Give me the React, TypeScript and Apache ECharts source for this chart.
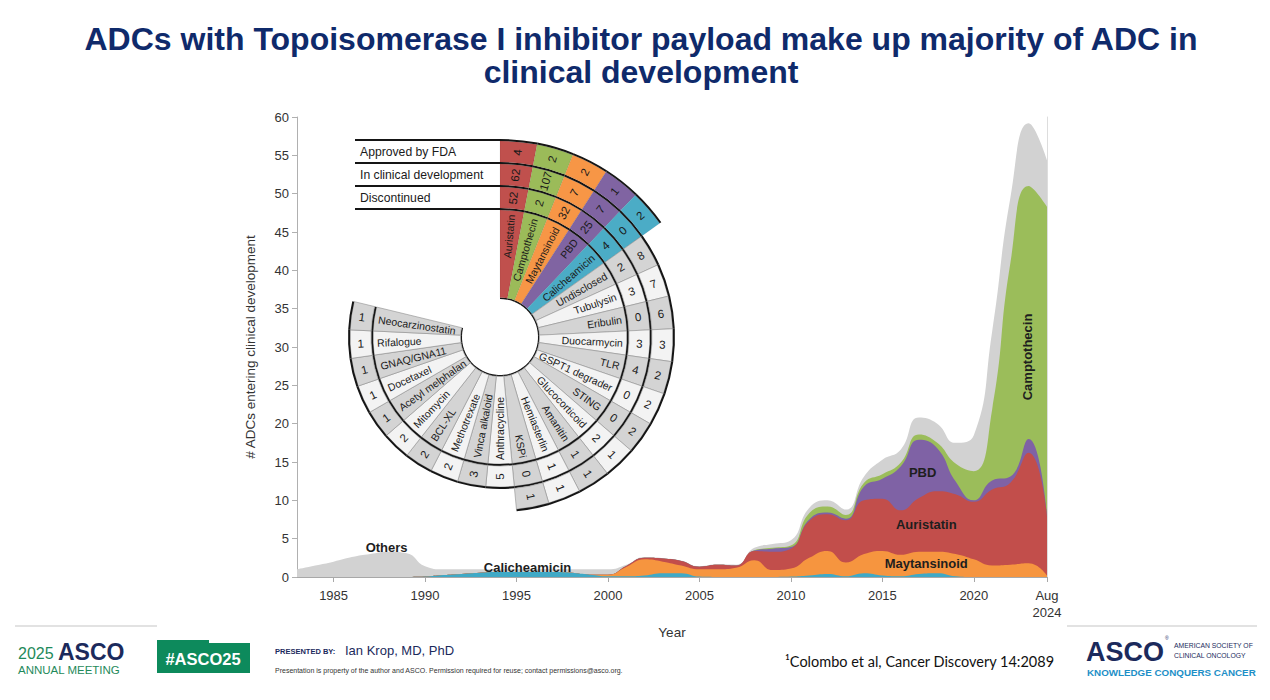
import React, { useEffect, useRef } from "react";
import * as echarts from "echarts";

const FONT = '"Liberation Sans", Arial, Helvetica, sans-serif';

// ---------- stream / stacked area data (ADCs entering clinical development per year) ----------
const years = [1983, 1984, 1985, 1986, 1987, 1988, 1989, 1990, 1991, 1992, 1993, 1994, 1995, 1996, 1997, 1998, 1999, 2000, 2001, 2002, 2003, 2004, 2005, 2006, 2007, 2008, 2009, 2010, 2011, 2012, 2013, 2014, 2015, 2016, 2017, 2018, 2019, 2020, 2021, 2022, 2023, 2024];

const calicheamicin = [0, 0, 0, 0, 0, 0, 0,
  0.05, 0.25, 0.4, 0.55, 0.65, 0.65, 0.65, 0.65, 0.55, 0.3,
  0.1, 0.1, 0.2, 0.5, 0.5, 0.05, 0, 0, 0, 0,
  0.05, 0.2, 0.4, 0.1, 0.5, 0.2, 0.1, 0.4, 0.5, 0.1,
  0, 0, 0, 0, 0];
const maytansinoid = [0, 0, 0, 0, 0, 0, 0,
  0, 0, 0, 0, 0, 0, 0, 0, 0, 0,
  0.2, 1.2, 2.1, 1.5, 1.0, 0.95, 1.0, 1.2, 2.2, 0.9,
  1.05, 2.3, 3.0, 1.8, 2.5, 3.2, 2.8, 2.9, 2.8, 2.9,
  2.3, 1.5, 1.6, 1.8, 0.2];
const auristatin = [0, 0, 0, 0, 0, 0, 0,
  0, 0, 0, 0, 0, 0, 0, 0, 0, 0,
  0, 0.15, 0.2, 0.4, 0.6, 0.35, 0.6, 0.3, 1.2, 2.4,
  2.6, 4.8, 4.8, 5.5, 7.0, 6.8, 5.8, 7.0, 7.9, 7.8,
  7.5, 9.9, 10.7, 14.4, 7.7];
const pbd = [0, 0, 0, 0, 0, 0, 0,
  0, 0, 0, 0, 0, 0, 0, 0, 0, 0,
  0, 0, 0, 0, 0, 0, 0, 0, 0.05, 0.4,
  0.2, 0.2, 0.2, 0.2, 1.8, 2.6, 5.7, 7.6, 5.6, 1.7,
  0.2, 1.2, 0.8, 1.8, 0.1];
const camptothecin = [0, 0, 0, 0, 0, 0, 0,
  0, 0, 0, 0, 0, 0, 0, 0, 0, 0,
  0, 0, 0, 0, 0, 0, 0, 0, 0.05, 0.1,
  0.2, 0.8, 0.8, 0.5, 0.5, 0.6, 0.5, 0.7, 0.7, 2.3,
  3.8, 9.2, 27.9, 33.0, 40.3];
const others = [1.0, 1.5, 2.0, 2.6, 3.0, 3.3, 3.1,
  1.35, 0.75, 0.6, 0.45, 0.35, 0.35, 0.35, 0.35, 0.45, 0.7,
  0.7, 0.15, 0.1, 0.05, 0.05, 0.05, 0.05, 0.1, 0.3, 0.5,
  0.7, 0.7, 0.8, 0.7, 0.8, 1.9, 1.7, 2.2, 2.5, 2.7,
  4.7, 10.2, 8.5, 8.2, 6.1];

// bottom -> top stacking order
const areaSeriesNames = ["Calicheamicin", "Maytansinoid", "Auristatin", "PBD", "Camptothecin", "Others"];
const areaSeriesValues = [calicheamicin, maytansinoid, auristatin, pbd, camptothecin, others];
const areaColors = ["#3fa9c6", "#f6953f", "#c24e4b", "#7f62a5", "#9bbd5a", "#d2d2d2"];

const xTickValues = [1985, 1990, 1995, 2000, 2005, 2010, 2015, 2020, 2024];

const areaLabelTexts = ["Others", "Calicheamicin", "PBD", "Auristatin", "Maytansinoid", "Camptothecin"];
const areaLabelYears = [1987.9, 1995.6, 2017.2, 2017.4, 2017.4, 2022.95];
const areaLabelValues = [3.9, 1.2, 13.6, 6.8, 1.8, 28.7];
const areaLabelRotations = [0, 0, 0, 0, 0, 90];

// ---------- radial inset data ----------
const payloadNames = ["Auristatin", "Camptothecin", "Maytansinoid", "PBD", "Calicheamicin",
  "Undisclosed", "Tubulysin", "Eribulin", "Duocarmycin", "TLR", "GSPT1 degrader", "STING",
  "Glucocorticoid", "Amanitin", "Hemiasterlin", "KSPi",
  "Anthracycline", "Vinca alkaloid", "Methotrexate", "BCL-XL", "Mitomycin", "Acetyl melphalan",
  "Docetaxel", "GNAQ/GNA11", "Rifalogue", "Neocarzinostatin"];
const approvedByFda: (number | null)[] = [4, 2, 2, 1, 2,
  null, null, null, null, null, null, null, null, null, null, null,
  null, null, null, null, null, null, null, null, null, null];
const inClinicalDevelopment: (number | null)[] = [62, 107, 7, 7, 0,
  8, 7, 6, 3, 2, 2, 2, 1, 1, 1, 1,
  null, null, null, null, null, null, null, null, null, null];
const discontinued: (number | null)[] = [52, 2, 32, 25, 4,
  2, 3, 0, 3, 4, 0, 0, 2, 1, 1, 0,
  5, 3, 2, 2, 2, 1, 1, 1, 1, 1];
const payloadColors = ["#c0504d", "#9bbb59", "#f79646", "#8064a2", "#4bacc6"];
const ringHeaders = ["Approved by FDA", "In clinical development", "Discontinued"];
const GAP_SLOTS = 7;

// layout constants for the inset
const CX = 500;
const CY = 337;
const R_IN = 38;
const HEADER_X0 = 355;

export default function App() {
  const ref = useRef<HTMLDivElement>(null);

  useEffect(() => {
    if (!ref.current) return;
    const chart = echarts.init(ref.current, null, { renderer: "svg" });

    const N = payloadNames.length;
    const angleCategories = [...payloadNames, ...Array.from({ length: GAP_SLOTS }, (_, k) => "gap" + k)];

    const hasAll = (_i: number) => true;
    const hasDisc = (i: number) => discontinued[i] != null;
    const hasClin = (i: number) => inClinicalDevelopment[i] != null;
    const hasAppr = (i: number) => approvedByFda[i] != null;
    const segs = [
      { width: 1.5, kind: "line", has: hasAll },
      { width: 87.5, kind: "fill", has: hasAll },
      { width: 2, kind: "line", has: hasAll },
      { width: 21, kind: "fill", has: hasDisc },
      { width: 2, kind: "line", has: hasDisc },
      { width: 21, kind: "fill", has: hasClin },
      { width: 2, kind: "line", has: hasClin },
      { width: 21, kind: "fill", has: hasAppr },
      { width: 2, kind: "line", has: hasAppr },
    ];
    const totalRing = segs.reduce((a, s) => a + s.width, 0);

    const fillStyle = (i: number) =>
      i < payloadColors.length
        ? { color: payloadColors[i], borderColor: "rgba(0,0,0,0.12)", borderWidth: 0.5 }
        : { color: i % 2 === 1 ? "#d4d4d4" : "#f3f3f3", borderColor: "#8e8e8e", borderWidth: 0.6 };

    const ringSeries = segs.map((s) => ({
      type: "bar",
      coordinateSystem: "polar",
      stack: "rings",
      barCategoryGap: "0%",
      silent: true,
      z: 5,
      data: angleCategories.map((_, i) =>
        i < N && s.has(i)
          ? { value: s.width, itemStyle: s.kind === "line" ? { color: "#151515", borderWidth: 0 } : fillStyle(i) }
          : "-"
      ),
    }));

    // radial positions (in radius-axis units) of the texts
    const nameR = segs[0].width + segs[1].width - 4;
    const discR = segs[0].width + segs[1].width + segs[2].width + segs[3].width / 2;
    const clinR = discR + segs[3].width / 2 + segs[4].width + segs[5].width / 2;
    const apprR = clinR + segs[5].width / 2 + segs[6].width + segs[7].width / 2;

    const textSeries = {
      type: "custom",
      coordinateSystem: "polar",
      z: 20,
      silent: true,
      data: payloadNames.map((_, i) => [0, i]),
      encode: { radius: 0, angle: 1 },
      renderItem: (params: any, api: any) => {
        const i = params.dataIndex;
        const cs = params.coordSys;
        const children: any[] = [];
        const place = (rv: number, text: string, isName: boolean) => {
          const p = api.coord([rv, i]);
          const th = Math.atan2(cs.cy - p[1], p[0] - cs.cx);
          const deg = (th * 180) / Math.PI;
          const flip = deg < -89 || deg > 91;
          const rotation = flip ? th + Math.PI : th;
          children.push({
            type: "text",
            x: p[0],
            y: p[1],
            rotation,
            style: {
              text,
              align: isName ? (flip ? "left" : "right") : "center",
              verticalAlign: "middle",
              fontSize: isName ? 10.5 : 11.5,
              fontFamily: FONT,
              fill: "#1a1a1a",
            },
          });
        };
        place(nameR, payloadNames[i], true);
        if (discontinued[i] != null) place(discR, String(discontinued[i]), false);
        if (inClinicalDevelopment[i] != null) place(clinR, String(inClinicalDevelopment[i]), false);
        if (approvedByFda[i] != null) place(apprR, String(approvedByFda[i]), false);
        return { type: "group", children };
      },
    };

    // header lines and labels (left of the colored sectors)
    const boundaryRadii: number[] = [];
    let acc = R_IN;
    segs.forEach((s, k) => {
      if (k >= 2 && s.kind === "line") boundaryRadii.push(acc + s.width / 2);
      acc += s.width;
    });
    const headerGraphics: any[] = boundaryRadii.map((r) => ({
      type: "line",
      silent: true,
      shape: { x1: HEADER_X0, y1: CY - r, x2: CX, y2: CY - r },
      style: { stroke: "#151515", lineWidth: 2 },
      z: 30,
    }));
    const outerFirst = [...boundaryRadii].reverse();
    ringHeaders.forEach((h, k) => {
      headerGraphics.push({
        type: "text",
        silent: true,
        x: HEADER_X0 + 5,
        y: CY - (outerFirst[k] + outerFirst[k + 1]) / 2,
        style: { text: h, fontSize: 12.2, fontFamily: FONT, fill: "#1a1a1a", verticalAlign: "middle" },
        z: 30,
      });
    });

    // cumulative tops of each layer (bottom -> top), drawn from the top layer down so that
    // each lower layer covers the part of the one above it
    const cumulative = areaSeriesValues.map((_, k) =>
      years.map((_, i) => {
        let s = 0;
        for (let j = 0; j <= k; j++) s += areaSeriesValues[j][i];
        return +s.toFixed(3);
      })
    );
    const drawOrder = areaSeriesNames.map((_, k) => k).reverse();
    const areaSeries = drawOrder.map((k, n) => ({
      name: areaSeriesNames[k],
      type: "line",
      smooth: 0.5,
      symbol: "none",
      xAxisIndex: 0,
      yAxisIndex: 0,
      lineStyle: { width: 0 },
      areaStyle: { color: areaColors[k], opacity: 1 },
      itemStyle: { color: areaColors[k] },
      data: years.map((y, i) => [y, cumulative[k][i]]),
      z: 2 + n * 0.01,
      markPoint:
        n === drawOrder.length - 1
          ? {
              symbol: "circle",
              symbolSize: 1,
              silent: true,
              itemStyle: { color: "rgba(0,0,0,0)" },
              label: { show: true, position: "inside", fontFamily: FONT, fontWeight: "bold", fontSize: 13, color: "#1e1e1e" },
              data: areaLabelTexts.map((t, j) => ({
                name: t,
                coord: [areaLabelYears[j], areaLabelValues[j]],
                label: { formatter: t, rotate: areaLabelRotations[j] },
              })),
            }
          : undefined,
    }));

    const footer: any[] = [
      { type: "line", shape: { x1: 15, y1: 626, x2: 157, y2: 626 }, style: { stroke: "#e2e2e2", lineWidth: 2 } },
      { type: "line", shape: { x1: 1067, y1: 626, x2: 1257, y2: 626 }, style: { stroke: "#e2e2e2", lineWidth: 2 } },
      { type: "text", x: 18, y: 653, style: { text: "2025", fontSize: 16, fontFamily: FONT, fill: "#1f8a5b", verticalAlign: "middle" } },
      { type: "text", x: 58, y: 652, style: { text: "ASCO", fontSize: 23, fontWeight: "bold", fontFamily: FONT, fill: "#1b2a5c", verticalAlign: "middle" } },
      { type: "text", x: 18, y: 670, style: { text: "ANNUAL MEETING", fontSize: 11.5, fontFamily: FONT, fill: "#1f8a5b", verticalAlign: "middle" } },
      { type: "rect", shape: { x: 157, y: 643, width: 93, height: 30 }, style: { fill: "#0d8a5c" } },
      { type: "rect", shape: { x: 157, y: 640, width: 52, height: 5 }, style: { fill: "#0d8a5c" } },
      { type: "text", x: 203, y: 659, style: { text: "#ASCO25", fontSize: 16.5, fontWeight: "bold", fontFamily: FONT, fill: "#ffffff", align: "center", verticalAlign: "middle" } },
      { type: "text", x: 275, y: 651, style: { text: "PRESENTED BY:", fontSize: 7.5, fontWeight: "bold", fontFamily: FONT, fill: "#1b2a5c", verticalAlign: "middle" } },
      { type: "text", x: 345, y: 650, style: { text: "Ian Krop, MD, PhD", fontSize: 13, fontFamily: FONT, fill: "#1b2a5c", verticalAlign: "middle" } },
      { type: "text", x: 275, y: 670, style: { text: "Presentation is property of the author and ASCO. Permission required for reuse; contact permissions@asco.org.", fontSize: 7, fontFamily: FONT, fill: "#333333", verticalAlign: "middle" } },
      { type: "text", x: 785, y: 661, style: { text: "\u00B9Colombo et al, Cancer Discovery 14:2089", fontSize: 14.5, fontFamily: "Lato, \"Liberation Sans\", sans-serif", fill: "#111111", verticalAlign: "middle" } },
      { type: "text", x: 1086, y: 652, style: { text: "ASCO", fontSize: 27, fontWeight: "bold", fontFamily: FONT, fill: "#1b2a5c", verticalAlign: "middle" } },
      { type: "text", x: 1165, y: 638, style: { text: "\u00AE", fontSize: 5, fontFamily: FONT, fill: "#1b2a5c", verticalAlign: "middle" } },
      { type: "text", x: 1174, y: 645, style: { text: "AMERICAN SOCIETY OF", fontSize: 6.8, fontFamily: FONT, fill: "#1b2a5c", verticalAlign: "middle" } },
      { type: "text", x: 1174, y: 655, style: { text: "CLINICAL ONCOLOGY", fontSize: 6.8, fontFamily: FONT, fill: "#1b2a5c", verticalAlign: "middle" } },
      { type: "text", x: 1087, y: 672, style: { text: "KNOWLEDGE CONQUERS CANCER", fontSize: 9.8, fontWeight: "bold", fontFamily: FONT, fill: "#1d8fc7", verticalAlign: "middle" } },
    ];

    const option: any = {
      animation: false,
      backgroundColor: "#ffffff",
      textStyle: { fontFamily: FONT },
      graphic: [
        {
          type: "text",
          x: 641,
          y: 22,
          style: {
            text: "ADCs with Topoisomerase I inhibitor payload make up majority of ADC in\nclinical development",
            fontSize: 32,
            fontWeight: "bold",
            fontFamily: FONT,
            fill: "#0f2a6b",
            align: "center",
            verticalAlign: "top",
            lineHeight: 33,
          },
        },
        ...headerGraphics,
        ...footer,
      ],
      grid: { left: 297, right: 223, top: 117, bottom: 123, containLabel: false, outerBoundsMode: "none" },
      xAxis: {
        type: "value",
        min: 1983,
        max: 2024,
        name: "Year",
        nameLocation: "middle",
        nameGap: 47,
        nameTextStyle: { fontSize: 13.5, color: "#333", fontFamily: FONT },
        axisLine: { show: true, lineStyle: { color: "#a8a8a8", width: 1 } },
        axisTick: { show: true, length: 5, lineStyle: { color: "#a8a8a8" }, customValues: xTickValues },
        axisLabel: {
          fontSize: 13,
          color: "#333",
          fontFamily: FONT,
          margin: 10,
          lineHeight: 17,
          customValues: xTickValues,
          formatter: (v: number) => (v === 2024 ? "Aug\n2024" : String(v)),
        },
        splitLine: { show: false },
      },
      yAxis: [
        {
          type: "value",
          min: 0,
          max: 60,
          interval: 5,
          name: "# ADCs entering clinical development",
          nameLocation: "middle",
          nameGap: 40,
          nameTextStyle: { fontSize: 13.5, color: "#333", fontFamily: FONT },
          axisLine: { show: true, lineStyle: { color: "#b0b0b0" } },
          axisTick: { show: true, length: 5, lineStyle: { color: "#b0b0b0" } },
          axisLabel: { fontSize: 13, color: "#333", fontFamily: FONT, margin: 8 },
          splitLine: { show: false },
        },
        {
          type: "value",
          min: 0,
          max: 60,
          position: "right",
          axisLine: { show: true, lineStyle: { color: "#dddddd" } },
          axisTick: { show: false },
          axisLabel: { show: false },
          splitLine: { show: false },
        },
      ],
      polar: { center: [CX, CY], radius: [R_IN, R_IN + totalRing] },
      angleAxis: {
        type: "category",
        data: angleCategories,
        startAngle: 90,
        clockwise: true,
        axisLine: { show: false },
        axisTick: { show: false },
        axisLabel: { show: false },
        splitLine: { show: false },
      },
      radiusAxis: {
        type: "value",
        min: 0,
        max: totalRing,
        axisLine: { show: false },
        axisTick: { show: false },
        axisLabel: { show: false },
        splitLine: { show: false },
      },
      series: [...areaSeries, ...ringSeries, textSeries],
    };

    chart.setOption(option);
    return () => chart.dispose();
  }, []);

  return (
    <div
      ref={ref}
      style={{ position: "fixed", left: 0, top: 0, width: 1270, height: 700, background: "#ffffff" }}
    />
  );
}
